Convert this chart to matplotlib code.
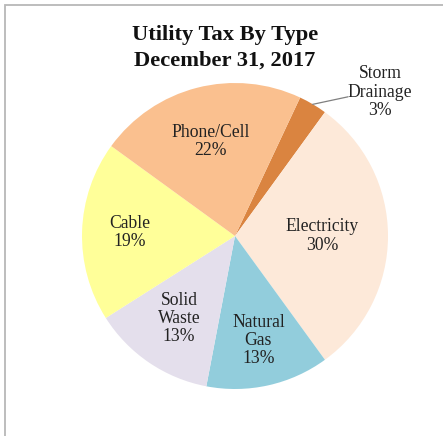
import numpy as np
import matplotlib
matplotlib.use("Agg")
import matplotlib.pyplot as plt
from matplotlib.patches import Rectangle

# -------------------------------
# Data
# -------------------------------
categories = ["Storm\nDrainage", "Electricity", "Natural\nGas", "Solid\nWaste", "Cable", "Phone/Cell"]
shares = [3, 30, 13, 13, 19, 22]
colors = ["#DA8440", "#FDE9D9", "#92CDDC", "#E4DFEC", "#FFFF99", "#FAC08F"]
label_dist = [None, 0.57, 0.70, 0.65, 0.69, 0.64]

plt.rcParams["font.family"] = ["Liberation Serif", "DejaVu Serif"]
text_color = "#222222"
label_size = 12.7

fig = plt.figure(figsize=(4.43, 4.36), dpi=100)
ax = fig.add_axes([82 / 443, 47 / 436, 306 / 443, 306 / 436])

wedges, _ = ax.pie(
    shares,
    colors=colors,
    startangle=64.8,
    counterclock=False,
    radius=1.0,
    wedgeprops=dict(linewidth=0),
)
ax.set_xlim(-1, 1)
ax.set_ylim(-1, 1)
ax.set_aspect("equal")
ax.axis("off")

# slice labels inside the pie
for w, name, val, d in zip(wedges, categories, shares, label_dist):
    if d is None:
        continue
    mid = np.deg2rad((w.theta1 + w.theta2) / 2)
    ax.text(d * np.cos(mid), d * np.sin(mid), f"{name}\n{val}%",
            ha="center", va="center", fontsize=label_size, color=text_color,
            linespacing=1.08)

# storm drainage label sits outside with a leader line
w = wedges[0]
mid = np.deg2rad((w.theta1 + w.theta2) / 2)
start = (1.0 * np.cos(mid), 1.0 * np.sin(mid))
ang2 = np.deg2rad(51)
end = (1.17 * np.cos(ang2), 1.17 * np.sin(ang2))
ax.plot([start[0], end[0]], [start[1], end[1]], color="#7f7f7f",
        lw=0.9, clip_on=False)
ax.text(0.948, 0.94, f"{categories[0]}\n{shares[0]}%",
        ha="center", va="center", fontsize=label_size, color=text_color,
        linespacing=1.12, clip_on=False)

# title
fig.text(225 / 443, 1 - 25 / 436, "Utility Tax By Type\nDecember 31, 2017",
         ha="center", va="top", fontsize=16.2, fontweight="bold",
         color="#111111", linespacing=1.35)

# chart area border (runs off right and bottom)
fig.patches.append(Rectangle((5 / 443, -0.2), 1.5, 1 - 5 / 436 + 0.2,
                             transform=fig.transFigure, fill=False,
                             edgecolor="#b8b8b8", lw=1.3))

fig.savefig("out.png", dpi=100)
